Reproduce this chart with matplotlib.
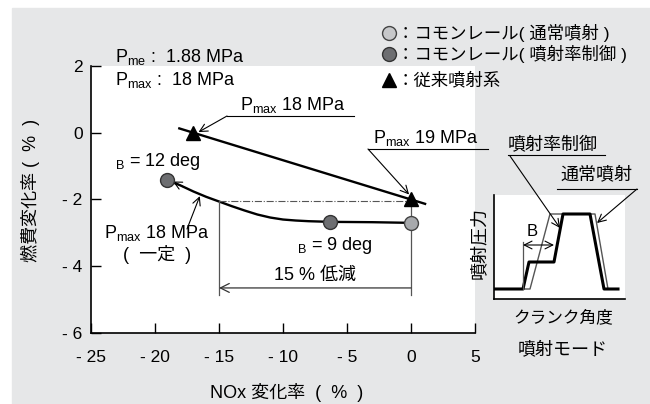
import numpy as np
import matplotlib
matplotlib.use('Agg')
from matplotlib import pyplot as plt
from matplotlib.lines import Line2D
from matplotlib.patches import Rectangle

plt.rcParams['font.family'] = ['Liberation Sans', 'Noto Sans CJK JP', 'DejaVu Sans']
plt.rcParams['mathtext.fontset'] = 'custom'
plt.rcParams['mathtext.rm'] = 'Liberation Sans'
plt.rcParams['mathtext.it'] = 'Liberation Sans'

W, H = 650, 404

# main chart data
xticks = [-25, -20, -15, -10, -5, 0, 5]
xticklabels = ['- 25', '- 20', '- 15', '- 10', '- 5', '0', '5']
yticks = [2, 0, -2, -4, -6]
yticklabels = ['2', '0', '- 2', '- 4', '- 6']

conv_x = [-18.1, -17, 0, 1.1]          # 従来噴射系 line
conv_y = [0.13, 0, -2, -2.13]
conv_pts_x = [-17, 0]
conv_pts_y = [0, -2]

cr_x = [-19.1, -18, -17, -16, -15, -14, -13, -12, -11, -10, -9, -8, -6.3, -3, 0]
cr_y = [-1.41, -1.58, -1.76, -1.92, -2.06, -2.2, -2.33, -2.45, -2.54, -2.6,
        -2.63, -2.65, -2.67, -2.68, -2.7]
rate_x = [-19.1, -6.3]                  # 噴射率制御
rate_y = [-1.41, -2.67]
norm_x = [0]                            # 通常噴射
norm_y = [-2.7]

ref_y = -2.05
red_from, red_to = 0, -15
red_arrow_y = -4.65
red_bottom = -4.85

# inset data (injection mode sketch)
thick_x = [1, 29, 35, 60, 69, 96, 110, 124]
thick_y = [10, 10, 37, 37, 85, 85, 10, 10]
thin_x = [1, 36, 56, 101, 114, 124]
thin_y = [10, 10, 85, 85, 10, 10]


def P(x, y):
    return (x / W, 1 - y / H)


fig = plt.figure(figsize=(6.5, 4.04), dpi=100)
fig.patch.set_facecolor('white')
fig.add_artist(Rectangle(P(12, 404), (W - 12) / W, (H - 8) / H,
                         transform=fig.transFigure, color='#e6e7e8', zorder=-5))

l, r, t, b = 91, 475, 66, 333
ax = fig.add_axes([l / W, (H - b) / H, (r - l) / W, (b - t) / H])
ax.set_facecolor('white')
ax.set_xlim(-25, 5)
ax.set_ylim(-6, 2)
ax.spines['right'].set_visible(False)
ax.spines['top'].set_visible(False)
for s in ['left', 'bottom']:
    ax.spines[s].set_linewidth(1.2)
ax.set_xticks(xticks, xticklabels)
ax.set_yticks(yticks, yticklabels)
ax.tick_params(axis='both', direction='in', length=7, width=1, labelsize=12.5)
ax.tick_params(axis='x', pad=12)
ax.tick_params(axis='y', pad=6)

ax.plot(conv_x, conv_y, color='k', lw=1.7)
ax.plot(conv_pts_x, conv_pts_y, ls='none', marker='^', ms=10, color='k', zorder=5)
ax.plot(cr_x, cr_y, color='k', lw=1.7)
ax.plot(rate_x, rate_y, ls='none', marker='o', ms=10, mfc='#6d6e71',
        mec='#333333', mew=1, zorder=5)
ax.plot(norm_x, norm_y, ls='none', marker='o', ms=10, mfc='#a7a9ac',
        mec='#444444', mew=1, zorder=5)

ax.plot([red_to, red_from], [ref_y, ref_y], color='#555555', lw=0.8, ls='-.')
ax.plot([red_to, red_to], [ref_y, red_bottom], color='#555555', lw=0.9)
ax.plot([red_from, red_from], [conv_pts_y[1], red_bottom], color='#555555', lw=0.9)
ax.annotate('', xy=(red_to, red_arrow_y), xytext=(red_from, red_arrow_y),
            arrowprops=dict(arrowstyle='->', lw=0.9, color='#333333',
                            shrinkA=0, shrinkB=0, mutation_scale=16))
ax.text((red_to + red_from) / 2, -4.27, '15 % 低減', ha='center', va='center', fontsize=13)

# arrow at start of curve
ax.annotate('', xy=(-18.6, -1.46), xytext=(-17.8, -1.62),
            arrowprops=dict(arrowstyle='->', lw=0.8, color='k',
                            shrinkA=0, shrinkB=0, mutation_scale=14))

fs = 13
fig.text(*P(115, 57), r'$\mathregular{P_{me}}$ :  1.88 MPa', fontsize=fs, va='center')
fig.text(*P(115, 80), r'$\mathregular{P_{max}}$ :  18 MPa', fontsize=fs, va='center')

# Pmax 18 MPa (top)
fig.text(*P(240, 105), r'$\mathregular{P_{max}}$ 18 MPa', fontsize=fs, va='center')
fig.add_artist(Line2D([227 / W, 354 / W], [1 - 116 / H] * 2, color='k', lw=0.8))
ax.annotate('', xy=(-16.6, 0.02), xytext=P(227, 116), textcoords='figure fraction',
            arrowprops=dict(arrowstyle='->', lw=0.8, color='k',
                            shrinkA=0, shrinkB=0, mutation_scale=14))
# Pmax 19 MPa
fig.text(*P(373, 138), r'$\mathregular{P_{max}}$ 19 MPa', fontsize=fs, va='center')
fig.add_artist(Line2D([368 / W, 488 / W], [1 - 149 / H] * 2, color='k', lw=0.8))
ax.annotate('', xy=(-0.15, -1.85), xytext=P(368, 149), textcoords='figure fraction',
            arrowprops=dict(arrowstyle='->', lw=0.8, color='k',
                            shrinkA=0, shrinkB=0, mutation_scale=14))
# Pmax 18 MPa (constant)
fig.text(*P(157, 233), r'$\mathregular{P_{max}}$ 18 MPa', fontsize=fs, va='center', ha='center')
fig.text(*P(157, 255), '(  一定  )', fontsize=fs, va='center', ha='center')
ax.annotate('', xy=(-16.5, -1.9), xytext=P(187, 229), textcoords='figure fraction',
            arrowprops=dict(arrowstyle='->', lw=0.8, color='k',
                            shrinkA=0, shrinkB=0, mutation_scale=14))

fig.text(*P(115, 162), r'$\mathregular{{}_B}$ = 12 deg', fontsize=fs, va='center')
fig.text(*P(297, 245), r'$\mathregular{{}_B}$ = 9 deg', fontsize=fs, va='center')

# axis labels
fig.text(*P(30, 190), '燃費変化率 (  %  )', rotation=90, fontsize=13, ha='center', va='center')
fig.text(*P(287, 392), 'NOx 変化率  (  %  )', fontsize=13, ha='center', va='center')

# legend
lx = 389
fig.add_artist(Line2D([lx / W], [1 - 33 / H], marker='o', ms=10, mfc='#c7c8ca',
                      mec='#444444', mew=1, ls='none'))
fig.add_artist(Line2D([lx / W], [1 - 54 / H], marker='o', ms=10, mfc='#6d6e71',
                      mec='#333333', mew=1, ls='none'))
fig.add_artist(Line2D([lx / W], [1 - 80 / H], marker='^', ms=10, color='k', ls='none'))
fig.text(*P(397, 33), '：コモンレール( 通常噴射 )', fontsize=12.5, va='center')
fig.text(*P(397, 54), '：コモンレール( 噴射率制御 )', fontsize=12.5, va='center')
fig.text(*P(397, 80), '：従来噴射系', fontsize=12.5, va='center')

# inset
il, ir, it, ib = 494, 625, 195, 299
ins = fig.add_axes([il / W, (H - ib) / H, (ir - il) / W, (ib - it) / H])
ins.set_facecolor('white')
ins.set_xlim(0, ir - il)
ins.set_ylim(0, ib - it)
ins.spines['right'].set_visible(False)
ins.spines['top'].set_visible(False)
for s in ['left', 'bottom']:
    ins.spines[s].set_linewidth(1.2)
ins.set_xticks([])
ins.set_yticks([])
ins.plot(thin_x, thin_y, color='#555555', lw=1.0)
ins.plot(thick_x, thick_y, color='k', lw=2.2)
ins.plot([29, 29], [10, 57], color='#555555', lw=0.9)
ins.annotate('', xy=(29, 54), xytext=(60, 54),
             arrowprops=dict(arrowstyle='<->', lw=0.8, color='k',
                             shrinkA=0, shrinkB=0, mutation_scale=14))
ins.text(38, 67, 'B', fontsize=12, ha='center', va='center')

fig.text(*P(508, 145), '噴射率制御', fontsize=13, va='center')
fig.add_artist(Line2D([508 / W, 605 / W], [1 - 155 / H] * 2, color='k', lw=0.8))
ins.annotate('', xy=(66, 71), xytext=P(510, 156), textcoords='figure fraction',
             annotation_clip=False,
             arrowprops=dict(arrowstyle='->', lw=0.8, color='k',
                             shrinkA=0, shrinkB=0, mutation_scale=14))
fig.text(*P(560, 175), '通常噴射', fontsize=13, va='center')
fig.add_artist(Line2D([557 / W, 637 / W], [1 - 189 / H] * 2, color='k', lw=0.8))
ins.annotate('', xy=(103, 76), xytext=P(637, 189), textcoords='figure fraction',
             annotation_clip=False,
             arrowprops=dict(arrowstyle='->', lw=0.8, color='k',
                             shrinkA=0, shrinkB=0, mutation_scale=14))

fig.text(*P(479, 243), '噴射圧力', rotation=90, fontsize=13, ha='center', va='center')
fig.text(*P(563, 317), 'クランク角度', fontsize=12, ha='center', va='center')
fig.text(*P(563, 350), '噴射モード', fontsize=13, ha='center', va='center')

fig.savefig('out.png', dpi=100)
